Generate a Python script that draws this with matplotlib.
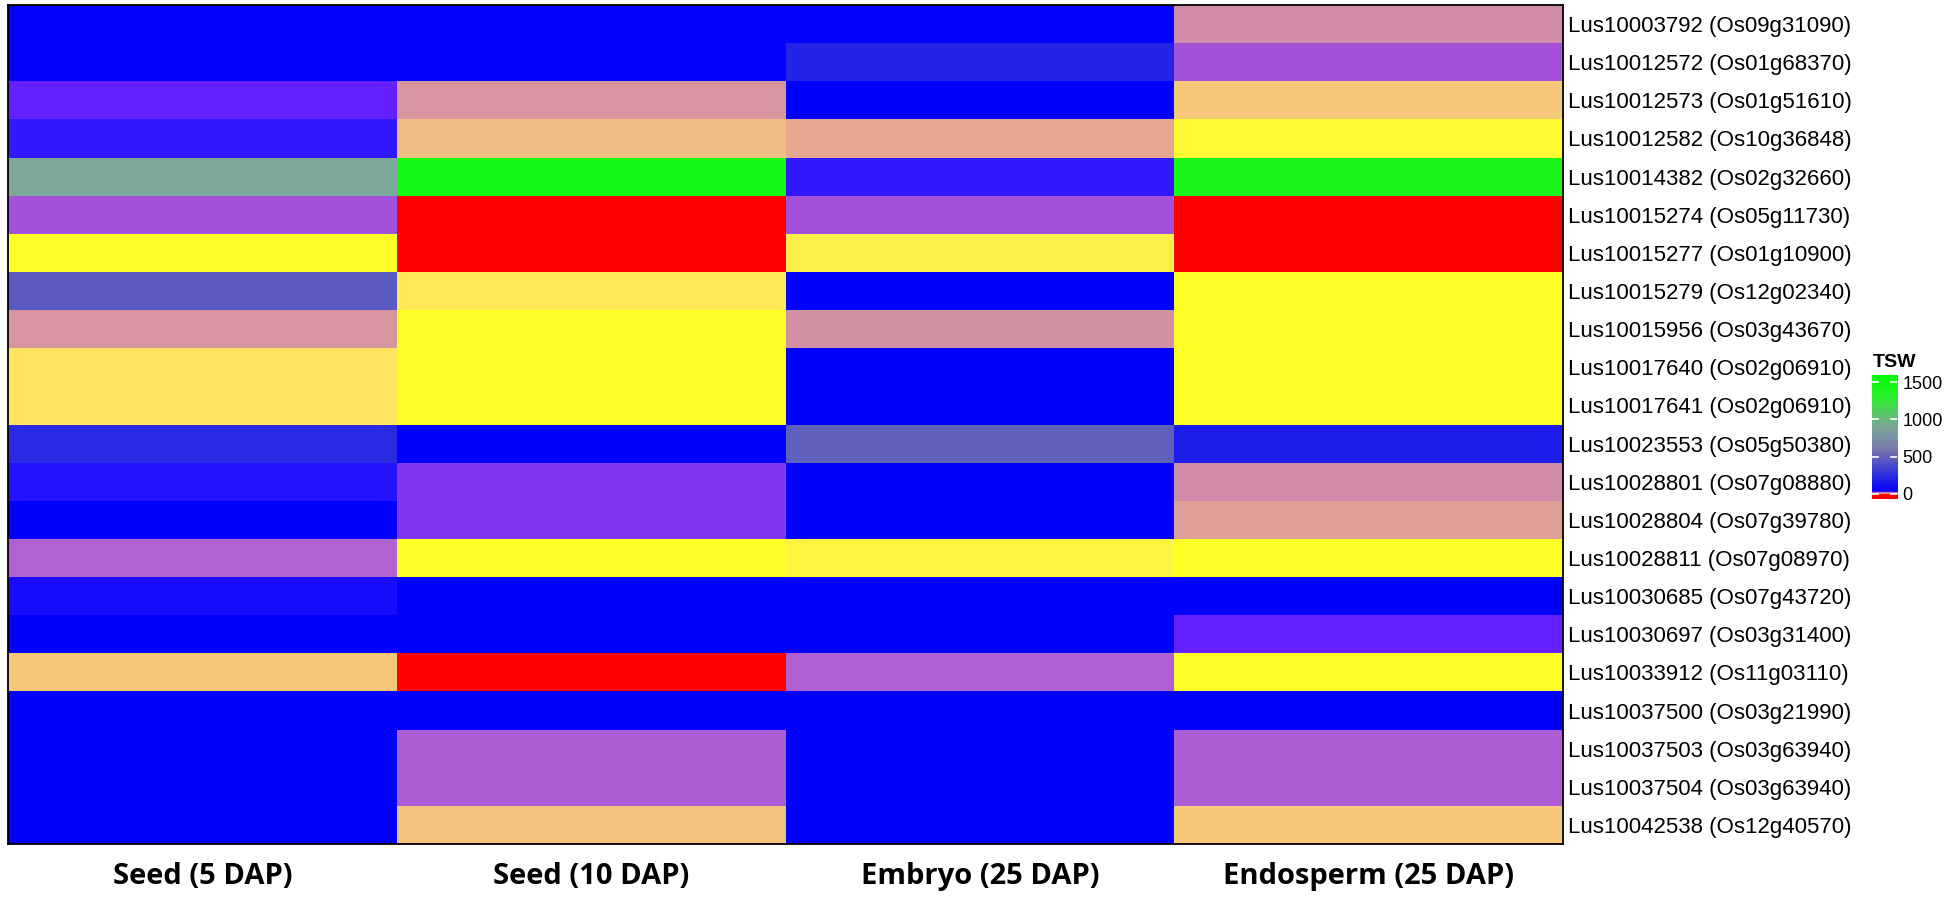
import numpy as np
import matplotlib
matplotlib.use("Agg")
import matplotlib.pyplot as plt
from matplotlib.colors import LinearSegmentedColormap, Normalize

genes = [
    "Lus10003792 (Os09g31090)", "Lus10012572 (Os01g68370)", "Lus10012573 (Os01g51610)",
    "Lus10012582 (Os10g36848)", "Lus10014382 (Os02g32660)", "Lus10015274 (Os05g11730)",
    "Lus10015277 (Os01g10900)", "Lus10015279 (Os12g02340)", "Lus10015956 (Os03g43670)",
    "Lus10017640 (Os02g06910)", "Lus10017641 (Os02g06910)", "Lus10023553 (Os05g50380)",
    "Lus10028801 (Os07g08880)", "Lus10028804 (Os07g39780)", "Lus10028811 (Os07g08970)",
    "Lus10030685 (Os07g43720)", "Lus10030697 (Os03g31400)", "Lus10033912 (Os11g03110)",
    "Lus10037500 (Os03g21990)", "Lus10037503 (Os03g63940)", "Lus10037504 (Os03g63940)",
    "Lus10042538 (Os12g40570)",
]
stages = ["Seed (5 DAP)", "Seed (10 DAP)", "Embryo (25 DAP)", "Endosperm (25 DAP)"]

# TSW values (one list per stage, rows in gene order)
seed_5 = [40, 40, 27, 30, 900, 21, 3, 450, 14, 6, 6, 230, 31, 36, 18, 32, 36, 9, 36, 36, 36, 36]
seed_10 = [40, 40, 14, 10, 1450, 0, 0, 5.5, 3, 3, 3, 36, 24, 24, 3, 36, 36, 0, 34, 19, 19, 9.5]
embryo_25 = [40, 200, 35, 12, 30, 21, 5, 34, 14.5, 36, 36, 480, 36, 36, 4.5, 36, 36, 18.5, 36, 36, 36, 36]
endosperm_25 = [15, 21, 9, 4, 1400, 0, 0, 3.5, 3, 3, 3, 170, 15, 13, 3, 36, 27, 3.5, 35, 19, 19, 9]

legend_ticks = [0, 500, 1000, 1500]
vmin, vmax = -67, 1594

# colour ramp (value, colour)
ramp = [
    (vmin, "#ff0000"), (0.5, "#ff0000"), (2.5, "#ffff28"), (3.5, "#ffff28"), (6, "#ffe462"),
    (9, "#f5c87a"), (12, "#e4a890"), (15, "#d08ca8"), (18, "#b262d0"), (21, "#a350da"),
    (24, "#8236f0"), (27, "#6420ff"), (30, "#3018ff"), (34, "#0000ff"), (600, "#7a7aaa"),
    (900, "#7ba898"), (1300, "#28f028"), (vmax, "#00ff00"),
]
cmap = LinearSegmentedColormap.from_list(
    "tsw", [((v - vmin) / (vmax - vmin), c) for v, c in ramp], N=200000)
norm = Normalize(vmin=vmin, vmax=vmax)

data = np.column_stack([seed_5, seed_10, embryo_25, endosperm_25])

W, H = 1949, 901
fig = plt.figure(figsize=(W / 100, H / 100), dpi=100)

# heatmap
ax = fig.add_axes([8 / W, 1 - 844 / H, (1563 - 8) / W, (844 - 5) / H])
ax.pcolormesh(np.arange(5), np.arange(23), data, cmap=cmap, norm=norm, shading="flat")
ax.set_xlim(0, 4)
ax.set_ylim(22, 0)
ax.yaxis.tick_right()
ax.set_yticks(np.arange(22) + 0.5)
ax.set_yticklabels(genes, fontsize=16, family="Liberation Sans")
ax.set_xticks(np.arange(4) + 0.5)
ax.set_xticklabels(stages, fontsize=21, fontweight="bold", family="Open Sans")
ax.tick_params(axis="y", length=0, pad=3.5)
ax.tick_params(axis="x", length=0, pad=13)
for s in ax.spines.values():
    s.set_linewidth(1.3)
    s.set_color("black")

# legend bar
cax = fig.add_axes([1872 / W, 1 - 499 / H, 25 / W, 124 / H])
grad = np.linspace(vmin, vmax, 600).reshape(-1, 1)
cax.imshow(grad, aspect="auto", cmap=cmap, norm=norm, origin="lower",
           extent=[0, 1, vmin, vmax], interpolation="bilinear")
cax.set_xlim(0, 1)
cax.set_ylim(vmin, vmax)
cax.set_xticks([])
cax.yaxis.tick_right()
cax.set_yticks(legend_ticks)
cax.set_yticklabels([str(t) for t in legend_ticks], fontsize=13, family="Liberation Sans")
cax.tick_params(axis="y", length=0, pad=4)
for t in legend_ticks:
    cax.plot([0, 0.24], [t, t], color="white", lw=1.2)
    cax.plot([0.76, 1], [t, t], color="white", lw=1.2)
for s in cax.spines.values():
    s.set_visible(False)
fig.text(1873 / W, 1 - 367 / H, "TSW", fontsize=14, fontweight="bold",
         family="Liberation Sans", ha="left", va="baseline")

fig.savefig("out.png", dpi=100)
